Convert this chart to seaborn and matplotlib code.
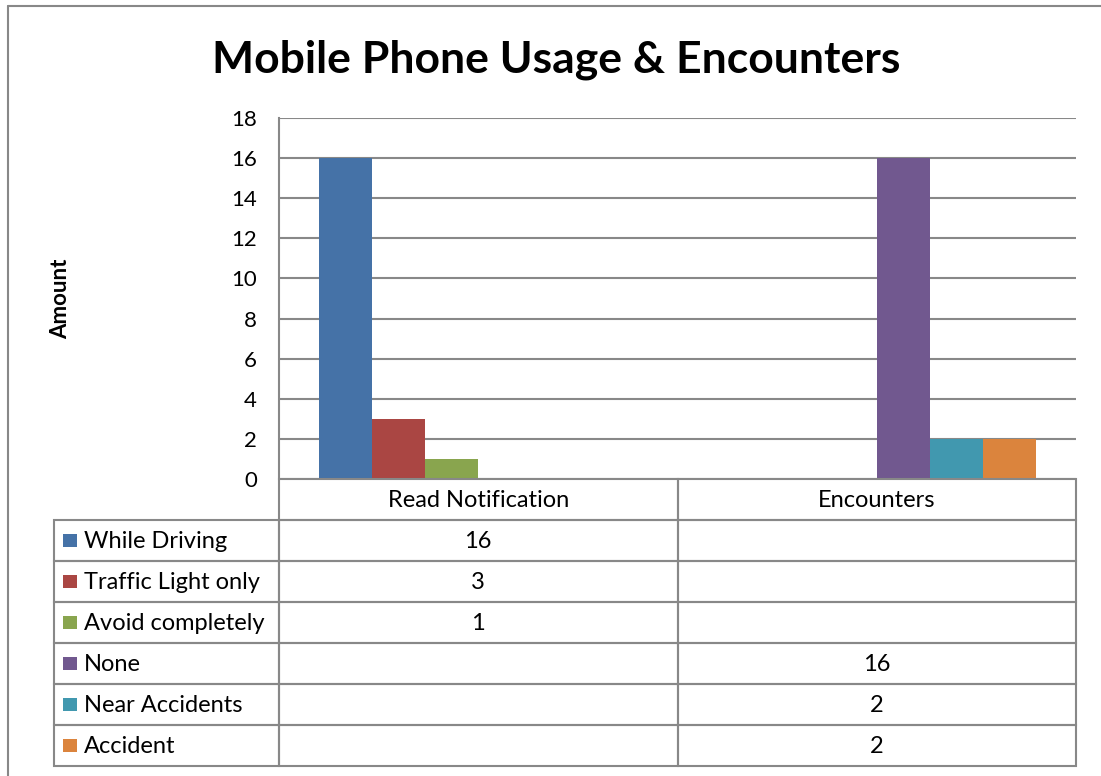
import numpy as np
import pandas as pd
import seaborn as sns
import matplotlib.pyplot as plt
from matplotlib.lines import Line2D
from matplotlib.patches import Rectangle

# data
categories = ['Read Notification', 'Encounters']
series = ['While Driving', 'Traffic Light only', 'Avoid completely',
          'None', 'Near Accidents', 'Accident']
read_notification = [16, 3, 1, None, None, None]
encounters = [None, None, None, 16, 2, 2]
colors = ['#4572A7', '#AA4643', '#89A54E', '#71588F', '#4198AF', '#DB843D']

rows = []
for cat, vals in zip(categories, [read_notification, encounters]):
    for s, v in zip(series, vals):
        rows.append({'category': cat, 'series': s, 'value': 0 if v is None else v, 'label': '' if v is None else str(v)})
df = pd.DataFrame(rows)

sns.set_style('white')
plt.rcParams['font.family'] = ['Lato', 'DejaVu Sans']
plt.rcParams['text.color'] = 'black'
plt.rcParams['ytick.color'] = 'black'

W, H = 1101, 776
fig = plt.figure(figsize=(W / 100, H / 100), dpi=100)
grid_col = '#888888'

# plot area
ax = fig.add_axes([279 / W, 1 - 479 / H, (1076 - 279) / W, (479 - 118) / H])
sns.barplot(data=df, x='category', y='value', hue='series', order=categories,
            hue_order=series, palette=colors, saturation=1, linewidth=0,
            legend=False, ax=ax)
ax.set_ylim(0, 18)
ax.set_yticks(np.arange(0, 19, 2))
ax.yaxis.grid(True, color=grid_col, linewidth=1.5)
ax.set_axisbelow(True)
for side in ['top', 'right', 'bottom']:
    ax.spines[side].set_visible(False)
ax.spines['left'].set_color(grid_col)
ax.spines['left'].set_linewidth(1.5)
ax.tick_params(axis='y', length=0, pad=16, labelsize=16, labelcolor='black')
ax.set_xticks([])
ax.set_xlabel('')
ax.set_ylabel('')

fig.text(61 / W, 1 - 299 / H, 'Amount', rotation=90, fontsize=16,
         fontweight='bold', ha='center', va='center')
fig.text(556 / W, 1 - 60 / H, 'Mobile Phone Usage & Encounters',
         fontsize=32, fontweight='bold', ha='center', va='center')

# data table below the plot
tab = fig.add_axes([54 / W, 1 - 766 / H, (1076 - 54) / W, (766 - 479) / H])
tab.set_xlim(0, 1022)
tab.set_ylim(7, 0)
tab.axis('off')
col_edges = [0, 225, 623.5, 1022]
lw = 1.5
fs = 17
# header row (categories only)
for j, cat in enumerate(categories):
    x0, x1 = col_edges[j + 1], col_edges[j + 2]
    tab.add_patch(Rectangle((x0, 0), x1 - x0, 1, fill=False, edgecolor=grid_col, lw=lw, clip_on=False))
    tab.text((x0 + x1) / 2, 0.52, cat, ha='center', va='center', fontsize=fs)
# series rows
for i, s in enumerate(series):
    y0 = i + 1
    for j in range(3):
        x0, x1 = col_edges[j], col_edges[j + 1]
        tab.add_patch(Rectangle((x0, y0), x1 - x0, 1, fill=False, edgecolor=grid_col, lw=lw, clip_on=False))
    tab.add_patch(Rectangle((9, y0 + 0.33), 14, 0.34, color=colors[i], lw=0, clip_on=False))
    tab.text(30, y0 + 0.52, s, ha='left', va='center', fontsize=fs)
    for j, cat in enumerate(categories):
        lab = df[(df.category == cat) & (df.series == s)]['label'].iloc[0]
        x0, x1 = col_edges[j + 1], col_edges[j + 2]
        tab.text((x0 + x1) / 2, y0 + 0.52, lab, ha='center', va='center', fontsize=fs)

# chart border (cropped at right and bottom)
fig.add_artist(Line2D([8 / W, 8 / W], [0, 1 - 6 / H], color=grid_col, lw=1.5))
fig.add_artist(Line2D([8 / W, 1], [1 - 6 / H, 1 - 6 / H], color=grid_col, lw=1.5))

fig.savefig('out.png', dpi=100)
